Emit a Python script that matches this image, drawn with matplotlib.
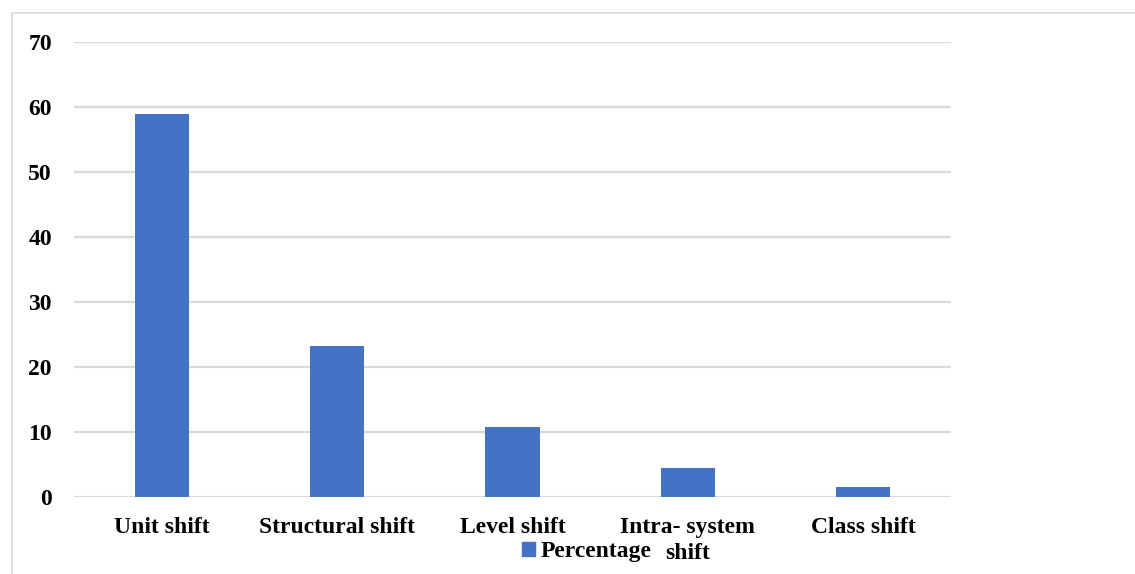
import matplotlib
matplotlib.use("Agg")
import matplotlib.pyplot as plt
from matplotlib.patches import Patch, Rectangle

categories = ["Unit shift", "Structural shift", "Level shift", "Intra- system\nshift", "Class shift"]
values = [59, 23.3, 10.7, 4.5, 1.5]
yticks = [0, 10, 20, 30, 40, 50, 60, 70]
series_name = "Percentage"

plt.rcParams['font.family'] = ['Liberation Serif', 'DejaVu Serif']
plt.rcParams['font.weight'] = 'bold'

FS = 17

fig = plt.figure(figsize=(11.35, 5.74), dpi=100)
ax = fig.add_axes([74/1135, 1-497/574, (951-74)/1135, (497-42)/574])

x = range(len(categories))
ax.bar(x, values, width=0.31, color="#4472C4", zorder=3)
ax.set_xlim(-0.5, len(categories)-0.5)
ax.set_ylim(0, 70)
ax.set_yticks(yticks)
ax.set_xticks(list(x))
ax.set_xticklabels(categories, fontsize=FS, fontweight='bold', linespacing=1.33)
ax.set_yticklabels([str(v) for v in yticks], fontsize=FS, fontweight='bold')
ax.tick_params(axis='both', length=0)
ax.tick_params(axis='y', pad=16)
ax.tick_params(axis='x', pad=14.5)
ax.grid(axis='y', color='#d9d9d9', linewidth=1.6, zorder=0)
for s in ax.spines.values():
    s.set_visible(False)

fig.legend(handles=[Patch(color="#4472C4", label=series_name)],
           loc='center left', bbox_to_anchor=(517/1135, 1-552/574),
           frameon=False, handlelength=0.55, handleheight=0.55, handletextpad=0.25,
           borderaxespad=0, borderpad=0.2,
           prop={'size': FS, 'weight': 'bold'})

fig.patches.append(Rectangle((12/1135, -0.1), 1.2, 1-13/574+0.1, transform=fig.transFigure,
                             fill=False, edgecolor='#d9d9d9', linewidth=1.2))

fig.savefig("out.png", dpi=100)
